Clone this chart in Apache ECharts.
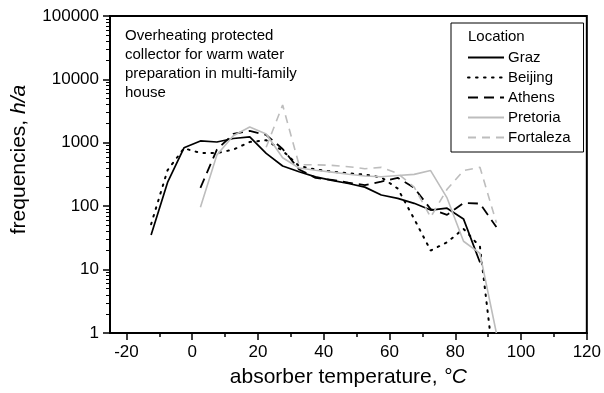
<!DOCTYPE html>
<html>
<head>
<meta charset="utf-8">
<title>Absorber temperature frequencies</title>
<script src="https://cdn.jsdelivr.net/npm/echarts@6/dist/echarts.min.js"></script>
<style>
  html, body { margin: 0; padding: 0; background: #fff; }
  #chart { width: 604px; height: 393px; }
</style>
</head>
<body>
<div id="chart"></div>
<script>
// Bin centres of the absorber temperature classes (°C)
const temps = [-12.5, -7.5, -2.5, 2.5, 7.5, 12.5, 17.5, 22.5, 27.5, 32.5, 37.5,
               42.5, 47.5, 52.5, 57.5, 62.5, 67.5, 72.5, 77.5, 82.5, 87.5, 92.5];

// Hours per year in each temperature class (null = no occurrence)
const graz      = [35, 237, 834, 1070, 1030, 1170, 1240, 680, 430, 350, 290,
                   255, 228, 200, 150, 133, 111, 87, 93, 63, 13, null];
const beijing   = [52, 370, 820, 690, 690, 780, 1030, 1100, 750, 430, 380,
                   350, 330, 315, 285, 190, 63, 20, 27, 44, 23, 0.15];
const athens    = [null, null, null, 195, 780, 1380, 1540, 1330, 800, 380, 280,
                   260, 235, 215, 245, 280, 195, 90, 73, 112, 110, 47];
const pretoria  = [null, null, null, 96, 640, 1290, 1780, 1380, 580, 400, 370,
                   345, 320, 300, 292, 305, 318, 365, 135, 28, 18, 1];
const fortaleza = [null, null, null, null, null, null, null, 850, 3950, 450, 450,
                   440, 420, 390, 410, 330, 200, 67, 185, 365, 410, 55];

const locations = ['Graz', 'Beijing', 'Athens', 'Pretoria', 'Fortaleza'];
const seriesValues = [graz, beijing, athens, pretoria, fortaleza];

const xTickLabels = [-20, 0, 20, 40, 60, 80, 100, 120];
const xMinorTicks = [-10, 10, 30, 50, 70, 90, 110];

const FONT = 'Liberation Sans, Arial, Helvetica, sans-serif';
const GRAY = '#bdbdbd';

const styles = {
  Graz:      { color: '#000', width: 1.7, type: 'solid' },
  Beijing:   { color: '#000', width: 2,   type: [1.6, 6.4], cap: 'round' },
  Athens:    { color: '#000', width: 1.8, type: [10, 6] },
  Pretoria:  { color: GRAY,   width: 1.6, type: 'solid' },
  Fortaleza: { color: GRAY,   width: 1.6, type: [8, 6] }
};

function pairs(values) {
  const out = [];
  values.forEach((v, i) => { if (v !== null) out.push([temps[i], v]); });
  return out;
}

const series = locations.map((name, k) => ({
  name: name,
  type: 'line',
  xAxisIndex: 0,
  yAxisIndex: 0,
  symbol: 'none',
  animation: false,
  lineStyle: styles[name],
  itemStyle: { color: styles[name].color },
  data: pairs(seriesValues[k])
}));

const chart = echarts.init(document.getElementById('chart'), null, { renderer: 'canvas' });

chart.setOption({
  backgroundColor: '#fff',
  animation: false,
  textStyle: { fontFamily: FONT, color: '#000' },
  grid: {
    left: 110, right: 16, top: 16, bottom: 56,
    show: true, borderColor: '#000', borderWidth: 2, backgroundColor: 'transparent'
  },
  legend: {
    orient: 'vertical',
    left: 451, top: 23,
    padding: [27, 13, 7, 16],
    itemWidth: 36, itemHeight: 14, itemGap: 5,
    borderColor: '#000', borderWidth: 1,
    itemStyle: { opacity: 0 },
    textStyle: { fontFamily: FONT, fontSize: 15, color: '#000', padding: [0, 0, 0, -1] },
    data: locations
  },
  xAxis: [
    {
      type: 'value',
      min: -25, max: 120,
      position: 'bottom',
      name: 'absorber temperature, {i|°C}',
      nameLocation: 'middle',
      nameGap: 34,
      nameTextStyle: {
        fontFamily: FONT, fontSize: 21, color: '#000',
        rich: { i: { fontFamily: FONT, fontSize: 21, fontStyle: 'italic', color: '#000' } }
      },
      axisLine: { show: true, onZero: false, lineStyle: { color: '#000', width: 2 } },
      axisTick: { show: true, inside: false, length: 7, customValues: xTickLabels,
                  lineStyle: { color: '#000', width: 1.5 } },
      axisLabel: { show: true, margin: 11, fontSize: 17, fontFamily: FONT, color: '#000',
                   customValues: xTickLabels },
      splitLine: { show: false }
    },
    {
      type: 'value',
      min: -25, max: 120,
      position: 'bottom',
      axisLine: { show: false, onZero: false },
      axisTick: { show: true, inside: false, length: 4, customValues: xMinorTicks,
                  lineStyle: { color: '#000', width: 1.5 } },
      axisLabel: { show: false },
      splitLine: { show: false }
    }
  ],
  yAxis: {
    type: 'log',
    logBase: 10,
    min: 1, max: 100000,
    position: 'left',
    name: 'frequencies, {i|h/a}',
    nameLocation: 'middle',
    nameGap: 80,
    nameTextStyle: {
      fontFamily: FONT, fontSize: 21, color: '#000',
      padding: [0, 0, 0, 30],
      rich: { i: { fontFamily: FONT, fontSize: 21, fontStyle: 'italic', color: '#000' } }
    },
    axisLine: { show: true, onZero: false, lineStyle: { color: '#000', width: 2 } },
    axisTick: { show: true, inside: false, length: 7, lineStyle: { color: '#000', width: 1.5 } },
    minorTick: { show: true, splitNumber: 9, length: 4, lineStyle: { color: '#000', width: 1 } },
    axisLabel: {
      margin: 11, fontSize: 17, fontFamily: FONT, color: '#000',
      formatter: v => String(Math.round(v))
    },
    splitLine: { show: false },
    minorSplitLine: { show: false }
  },
  graphic: [
    {
      type: 'text',
      left: 125, top: 26,
      silent: true,
      style: {
        text: 'Overheating protected\ncollector for warm water\npreparation in multi-family\nhouse',
        font: '15px ' + FONT,
        lineHeight: 19,
        fill: '#000'
      }
    },
    {
      type: 'text',
      left: 468, top: 29,
      silent: true,
      style: { text: 'Location', font: '15px ' + FONT, fill: '#000' }
    }
  ],
  series: series
});
</script>
</body>
</html>
